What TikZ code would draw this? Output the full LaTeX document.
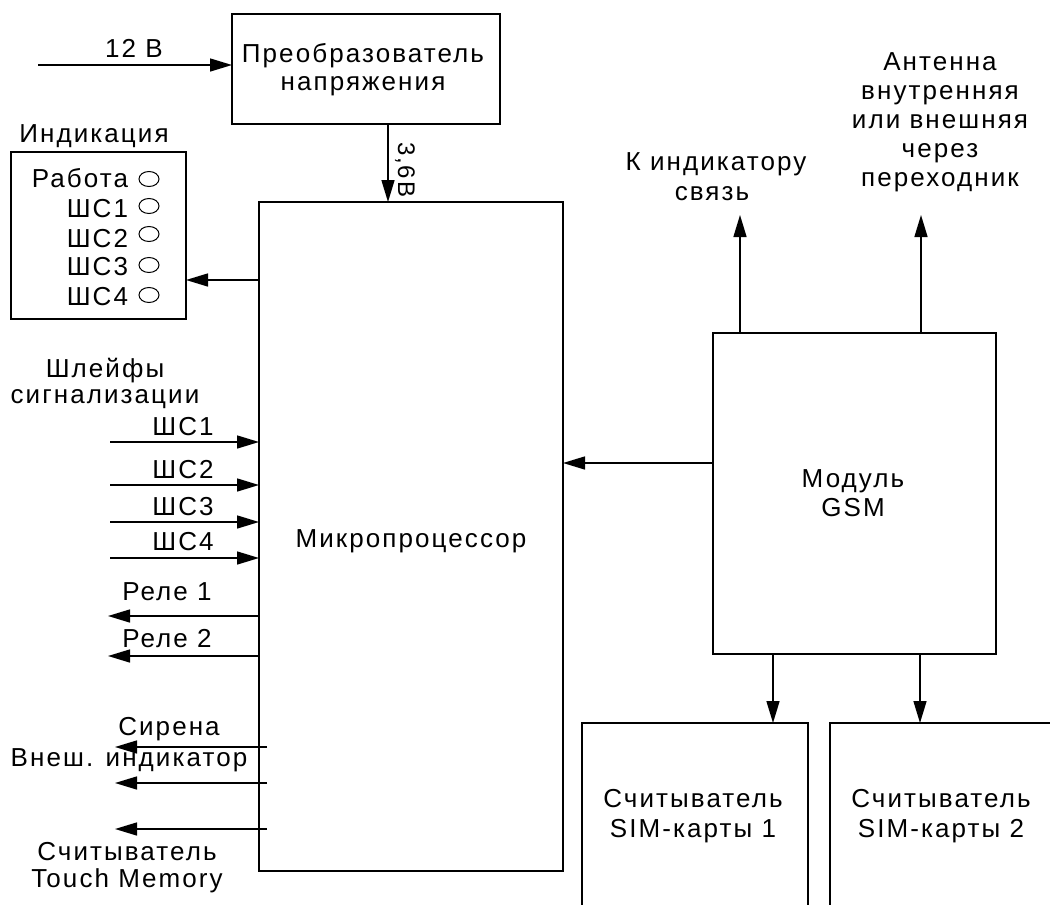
\documentclass[tikz,border=0pt]{standalone}
\usepackage{fontspec}
\setmainfont{Liberation Sans}[LetterSpace=8]
\usetikzlibrary{arrows.meta}
\begin{document}
\begin{tikzpicture}[x=1pt,y=-1pt,font=\fontsize{26}{30}\selectfont,
  box/.style={draw,line width=1.5pt,anchor=north west,inner sep=0pt,outer sep=0pt},
  arr/.style={-{Triangle[length=22pt,width=13pt]},line width=1.5pt},
  txt/.style={inner sep=0pt,outer sep=0pt,anchor=base},
  txtr/.style={inner sep=0pt,outer sep=0pt,anchor=base east},
  lamp/.style={line width=1pt}]
\useasboundingbox (0,0) rectangle (1050,905);
% boxes
\node[box,minimum width=268pt,minimum height=110pt] (conv) at (232,14) {};
\node[box,minimum width=175pt,minimum height=167pt] (ind) at (11,152) {};
\node[box,minimum width=304pt,minimum height=669pt] (mp) at (259,202) {};
\node[box,minimum width=283pt,minimum height=321pt] (gsm) at (713,333) {};
\begin{scope}
\clip (0,0) rectangle (1050,905);
\node[box,minimum width=226pt,minimum height=250pt] (sim1) at (582,723) {};
\node[box,minimum width=300pt,minimum height=250pt] (sim2) at (830,723) {};
\end{scope}
% texts
\node[txt] (t12) at (134,57) {12 В};
\node[txt] (tconv1) at (363,62) {Преобразователь};
\node[txt] (tconv2) at (363,90) {напряжения};
\node[txt,rotate=-90,anchor=base west,font=\fontsize{24}{28}\selectfont] (t36) at (398,142) {3,6В};
\node[txt] (tind) at (94,142) {Индикация};
\node[txtr] (i0) at (128,187) {Работа};
\node[txtr] (i1) at (128,217) {ШС1};
\node[txtr] (i2) at (128,247) {ШС2};
\node[txtr] (i3) at (128,275) {ШС3};
\node[txtr] (i4) at (128,305) {ШС4};
\draw[lamp] (149,179) ellipse [x radius=10pt,y radius=7.5pt];
\draw[lamp] (149,206) ellipse [x radius=10pt,y radius=7.5pt];
\draw[lamp] (149,234) ellipse [x radius=10pt,y radius=7.5pt];
\draw[lamp] (149,265) ellipse [x radius=10pt,y radius=7.5pt];
\draw[lamp] (149,295) ellipse [x radius=10pt,y radius=7.5pt];
\node[txt] (tsh1) at (105,377) {Шлейфы};
\node[txt] (tsh2) at (105,403) {сигнализации};
\node[txt] (ts1) at (183,435) {ШС1};
\node[txt] (ts2) at (183,478) {ШС2};
\node[txt] (ts3) at (183,515) {ШС3};
\node[txt] (ts4) at (183,550) {ШС4};
\node[txt] (tr1) at (167,600) {Реле 1};
\node[txt] (tr2) at (167,647) {Реле 2};
\node[txt] (tsir) at (169,735) {Сирена};
\node[txt] (tvn) at (129,766) {Внеш. индикатор};
\node[txt] (ttm1) at (127,860) {Считыватель};
\node[txt] (ttm2) at (127,887) {Touch Memory};
\node[txt] (tmp) at (411,547) {Микропроцессор};
\node[txt] (tg1) at (853,487) {Модуль};
\node[txt] (tg2) at (853,516) {GSM};
\node[txt] (tk1) at (716,170) {К индикатору};
\node[txt] (tk2) at (712,200) {связь};
\node[txt] (ta1) at (940,70) {Антенна};
\node[txt] (ta2) at (940,99) {внутренняя};
\node[txt] (ta3) at (940,128) {или внешняя};
\node[txt] (ta4) at (940,157) {через};
\node[txt] (ta5) at (940,186) {переходник};
\node[txt] (tsa1) at (693,807) {Считыватель};
\node[txt] (tsa2) at (693,837) {SIM-карты 1};
\node[txt] (tsb1) at (941,807) {Считыватель};
\node[txt] (tsb2) at (941,837) {SIM-карты 2};
% connectors
\coordinate (p12) at (38,65);
\draw[arr] (p12) -- (p12 -| conv.west);
\coordinate (v36) at (388,0);
\draw[arr] (v36 |- conv.south) -- (v36 |- mp.north);
\coordinate (yind) at (0,280);
\draw[arr] (yind -| mp.west) -- (yind -| ind.east);
\coordinate (s1) at (110,442);
\coordinate (s2) at (110,485);
\coordinate (s3) at (110,522);
\coordinate (s4) at (110,558);
\draw[arr] (s1) -- (s1 -| mp.west);
\draw[arr] (s2) -- (s2 -| mp.west);
\draw[arr] (s3) -- (s3 -| mp.west);
\draw[arr] (s4) -- (s4 -| mp.west);
\coordinate (r1) at (108,616);
\coordinate (r2) at (108,656);
\draw[arr] (r1 -| mp.west) -- (r1);
\draw[arr] (r2 -| mp.west) -- (r2);
\coordinate (o1) at (115,747);
\coordinate (o2) at (115,783);
\coordinate (o3) at (115,829);
\coordinate (o1s) at (267,747);
\coordinate (o2s) at (267,783);
\coordinate (o3s) at (267,829);
\draw[arr] (o1s) -- (o1);
\draw[arr] (o2s) -- (o2);
\draw[arr] (o3s) -- (o3);
\coordinate (g) at (0,463);
\draw[arr] (g -| gsm.west) -- (g -| mp.east);
\coordinate (u1) at (740,215);
\coordinate (u2) at (921,215);
\draw[arr] (u1 |- gsm.north) -- (u1);
\draw[arr] (u2 |- gsm.north) -- (u2);
\coordinate (d1) at (773,0);
\coordinate (d2) at (920,0);
\draw[arr] (d1 |- gsm.south) -- (d1 |- sim1.north);
\draw[arr] (d2 |- gsm.south) -- (d2 |- sim2.north);
\end{tikzpicture}
\end{document}
